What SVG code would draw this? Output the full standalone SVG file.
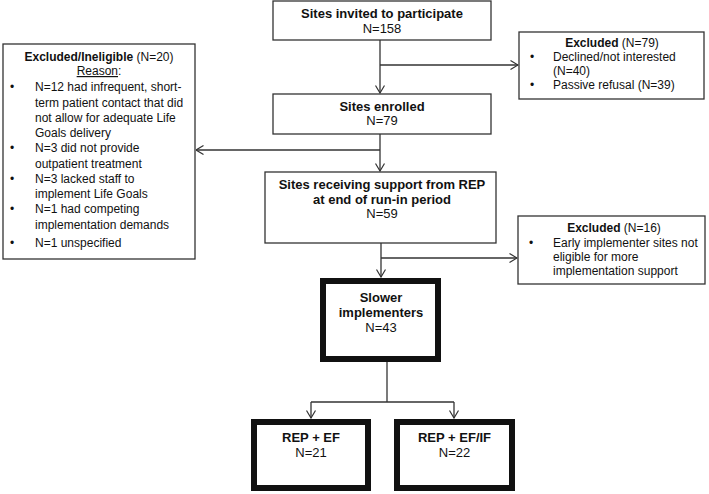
<svg xmlns="http://www.w3.org/2000/svg" width="709" height="494" viewBox="0 0 709 494">
<defs>
<style>
.box{fill:#fff;stroke:#333;stroke-width:1.3}
.thick{fill:#fff;stroke:#111;stroke-width:6}
.t{font-family:"Liberation Sans",Arial,sans-serif;font-size:13px;fill:#111}
.s{font-family:"Liberation Sans",Arial,sans-serif;font-size:12px;fill:#111}
.b{font-weight:bold}
.c{text-anchor:middle}
.conn line{stroke:#333;stroke-width:1.3;fill:none}
</style>
<marker id="arr" viewBox="0 0 10 10" refX="9.5" refY="5" markerWidth="10" markerHeight="10" markerUnits="userSpaceOnUse" orient="auto">
<path d="M2,0.5 L9.5,5 L2,9.5" fill="none" stroke="#333" stroke-width="1.2"/>
</marker>
</defs>
<rect width="709" height="494" fill="#fff"/>

<g id="connectors" class="conn">
<line x1="380" y1="40" x2="380" y2="93" marker-end="url(#arr)"/>
<line x1="380" y1="65" x2="518" y2="65" marker-end="url(#arr)"/>
<line x1="380" y1="134" x2="380" y2="171" marker-end="url(#arr)"/>
<line x1="380" y1="150" x2="196" y2="150" marker-end="url(#arr)"/>
<line x1="381" y1="243" x2="381" y2="277" marker-end="url(#arr)"/>
<line x1="381" y1="258" x2="517" y2="258" marker-end="url(#arr)"/>
<line x1="387" y1="362" x2="387" y2="402"/>
<line x1="311" y1="402" x2="454" y2="402"/>
<line x1="311" y1="402" x2="311" y2="418" marker-end="url(#arr)"/>
<line x1="454" y1="402" x2="454" y2="418" marker-end="url(#arr)"/>
</g>

<g id="invited">
<rect class="box" x="273" y="1" width="218" height="39"/>
<text class="t b c" x="382" y="18">Sites invited to participate</text>
<text class="t c" x="382" y="32.5">N=158</text>
</g>

<g id="enrolled">
<rect class="box" x="273" y="94" width="218" height="40"/>
<text class="t b c" x="382" y="111">Sites enrolled</text>
<text class="t c" x="382" y="125">N=79</text>
</g>

<g id="excluded79">
<rect class="box" x="519" y="32" width="185" height="67"/>
<text class="s c" x="612" y="47"><tspan class="b">Excluded</tspan> (N=79)</text>
<text class="s" x="530" y="61">•</text>
<text class="s" x="553" y="61">Declined/not interested</text>
<text class="s" x="553" y="75">(N=40)</text>
<text class="s" x="530" y="89">•</text>
<text class="s" x="553" y="89">Passive refusal (N=39)</text>
</g>

<g id="ineligible">
<rect class="box" x="3" y="44" width="192" height="215"/>
<text class="s c" x="99" y="61"><tspan class="b">Excluded/Ineligible</tspan> (N=20)</text>
<text class="s c" x="99" y="75"><tspan text-decoration="underline">Reason</tspan>:</text>
<text class="s" x="10" y="91">•</text>
<text class="s" x="35" y="91">N=12 had infrequent, short-</text>
<text class="s" x="35" y="107">term patient contact that did</text>
<text class="s" x="35" y="122">not allow for adequate Life</text>
<text class="s" x="35" y="137">Goals delivery</text>
<text class="s" x="10" y="152">•</text>
<text class="s" x="35" y="152">N=3 did not provide</text>
<text class="s" x="35" y="168">outpatient treatment</text>
<text class="s" x="10" y="183">•</text>
<text class="s" x="35" y="183">N=3 lacked staff to</text>
<text class="s" x="35" y="198">implement Life Goals</text>
<text class="s" x="10" y="213">•</text>
<text class="s" x="35" y="213">N=1 had competing</text>
<text class="s" x="35" y="229">implementation demands</text>
<text class="s" x="10" y="247">•</text>
<text class="s" x="35" y="247">N=1 unspecified</text>
</g>

<g id="receiving">
<rect class="box" x="265" y="172" width="231" height="71"/>
<text class="t b c" x="382" y="189">Sites receiving support from REP</text>
<text class="t b c" x="382" y="203.5">at end of run-in period</text>
<text class="t c" x="382" y="218">N=59</text>
</g>

<g id="excluded16">
<rect class="box" x="518" y="216" width="187" height="68"/>
<text class="s c" x="614" y="232"><tspan class="b">Excluded</tspan> (N=16)</text>
<text class="s" x="529" y="247">•</text>
<text class="s" x="553" y="247">Early implementer sites not</text>
<text class="s" x="553" y="261">eligible for more</text>
<text class="s" x="553" y="275">implementation support</text>
</g>

<g id="slower">
<rect class="thick" x="323" y="281" width="115" height="78"/>
<text class="t b c" x="381" y="301.5">Slower</text>
<text class="t b c" x="381" y="316.5">implementers</text>
<text class="t c" x="381" y="331.5">N=43</text>
</g>

<g id="repef">
<rect class="thick" x="254" y="422" width="114" height="66"/>
<text class="t b c" x="311" y="441.5">REP + EF</text>
<text class="t c" x="311" y="456.5">N=21</text>
</g>

<g id="repefif">
<rect class="thick" x="397" y="422" width="115" height="66"/>
<text class="t b c" x="454.5" y="441.5">REP + EF/IF</text>
<text class="t c" x="454.5" y="456.5">N=22</text>
</g>
</svg>
